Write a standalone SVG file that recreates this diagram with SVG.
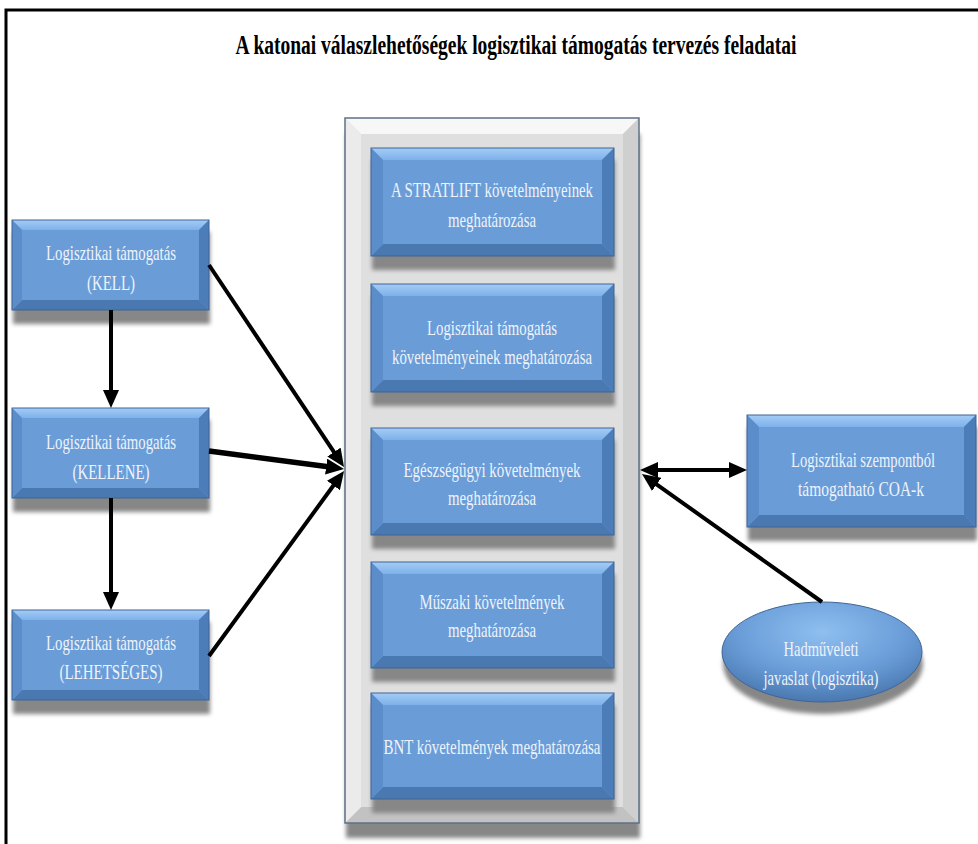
<svg xmlns="http://www.w3.org/2000/svg" width="978" height="844" viewBox="0 0 978 844">
<defs>
<style>
.t{font-family:"Liberation Serif","Times New Roman",serif;font-size:21px;fill:#eef3fb;text-anchor:middle}
.title{font-family:"Liberation Serif","Times New Roman",serif;font-size:28px;font-weight:bold;fill:#000;text-anchor:middle}
.bc{fill:#6a9dd8}
.bt{fill:url(#gTop)}
.bb{fill:#4a78b0}
.bl{fill:#5b8dcb}
.br{fill:#4d7db8}
.bo{fill:none;stroke:#3f6596;stroke-width:1}
.gc{fill:#dfdfdf}
.gt{fill:#f7f7f7}
.gb{fill:#c2c2c2}
.gl{fill:#ebebeb}
.gr{fill:#cfcfcf}
.go{fill:none;stroke:#5f7086;stroke-width:1.5}
.sh{fill:#878787;filter:url(#blur)}
.c{stroke:#000;stroke-width:4;fill:none;marker-end:url(#ah)}
</style>
<linearGradient id="gTop" x1="0" y1="0" x2="0" y2="1">
<stop offset="0" stop-color="#a4cdf6"/>
<stop offset="1" stop-color="#7eb0ea"/>
</linearGradient>
<radialGradient id="gEl" cx="0.5" cy="0.3" r="0.7">
<stop offset="0" stop-color="#8fbff0"/>
<stop offset="0.6" stop-color="#6a9dd8"/>
<stop offset="1" stop-color="#4a78b0"/>
</radialGradient>
<filter id="blur" x="-10%" y="-10%" width="120%" height="120%">
<feGaussianBlur stdDeviation="2"/>
</filter>
<marker id="ah" viewBox="0 0 18 16" refX="4" refY="8" markerWidth="18" markerHeight="16" markerUnits="userSpaceOnUse" orient="auto-start-reverse">
<path d="M0,0 L18,8 L0,16 z" fill="#000"/>
</marker>
</defs>
<rect width="978" height="844" fill="#fff"/>
<path d="M6,844 L6,10 L978,10" fill="none" stroke="#000" stroke-width="3"/>
<text class="title" x="516" y="54" textLength="561" lengthAdjust="spacingAndGlyphs">A katonai válaszlehetőségek logisztikai támogatás tervezés feladatai</text>

<g id="container">
<rect class="sh" x="346" y="134" width="294" height="704"/>
<rect class="gc" x="345" y="118" width="294" height="705"/>
<polygon class="gt" points="345,118 639,118 623,134 361,134"/>
<polygon class="gb" points="345,823 639,823 623,807 361,807"/>
<polygon class="gl" points="345,118 361,134 361,807 345,823"/>
<polygon class="gr" points="639,118 623,134 623,807 639,823"/>
<rect class="go" x="345" y="118" width="294" height="705"/>
</g>

<g id="kell">
<rect class="sh" x="13" y="232" width="197" height="92"/>
<rect class="bc" x="12" y="220" width="197" height="90"/>
<polygon class="bt" points="12,220 209,220 199,230 22,230"/>
<polygon class="bb" points="12,310 209,310 199,300 22,300"/>
<polygon class="bl" points="12,220 22,230 22,300 12,310"/>
<polygon class="br" points="209,220 199,230 199,300 209,310"/>
<rect class="bo" x="12" y="220" width="197" height="90"/>
<text class="t" x="111" y="260" textLength="130" lengthAdjust="spacingAndGlyphs">Logisztikai támogatás</text>
<text class="t" x="111" y="290" textLength="48" lengthAdjust="spacingAndGlyphs">(KELL)</text>
</g>

<g id="kellene">
<rect class="sh" x="13" y="420" width="197" height="92"/>
<rect class="bc" x="12" y="408" width="197" height="90"/>
<polygon class="bt" points="12,408 209,408 199,418 22,418"/>
<polygon class="bb" points="12,498 209,498 199,488 22,488"/>
<polygon class="bl" points="12,408 22,418 22,488 12,498"/>
<polygon class="br" points="209,408 199,418 199,488 209,498"/>
<rect class="bo" x="12" y="408" width="197" height="90"/>
<text class="t" x="111" y="449" textLength="130" lengthAdjust="spacingAndGlyphs">Logisztikai támogatás</text>
<text class="t" x="111" y="479" textLength="77" lengthAdjust="spacingAndGlyphs">(KELLENE)</text>
</g>

<g id="lehetseges">
<rect class="sh" x="13" y="622" width="197" height="92"/>
<rect class="bc" x="12" y="610" width="197" height="90"/>
<polygon class="bt" points="12,610 209,610 199,620 22,620"/>
<polygon class="bb" points="12,700 209,700 199,690 22,690"/>
<polygon class="bl" points="12,610 22,620 22,690 12,700"/>
<polygon class="br" points="209,610 199,620 199,690 209,700"/>
<rect class="bo" x="12" y="610" width="197" height="90"/>
<text class="t" x="111" y="650" textLength="130" lengthAdjust="spacingAndGlyphs">Logisztikai támogatás</text>
<text class="t" x="111" y="679" textLength="103" lengthAdjust="spacingAndGlyphs">(LEHETSÉGES)</text>
</g>

<g id="stratlift">
<rect class="sh" x="372" y="160" width="243" height="110"/>
<rect class="bc" x="371" y="148" width="243" height="108"/>
<polygon class="bt" points="371,148 614,148 602,160 383,160"/>
<polygon class="bb" points="371,256 614,256 602,244 383,244"/>
<polygon class="bl" points="371,148 383,160 383,244 371,256"/>
<polygon class="br" points="614,148 602,160 602,244 614,256"/>
<rect class="bo" x="371" y="148" width="243" height="108"/>
<text class="t" x="492" y="197" textLength="202" lengthAdjust="spacingAndGlyphs">A STRATLIFT követelményeinek</text>
<text class="t" x="492" y="227" textLength="88" lengthAdjust="spacingAndGlyphs">meghatározása</text>
</g>

<g id="logkov">
<rect class="sh" x="372" y="296" width="243" height="110"/>
<rect class="bc" x="371" y="284" width="243" height="108"/>
<polygon class="bt" points="371,284 614,284 602,296 383,296"/>
<polygon class="bb" points="371,392 614,392 602,380 383,380"/>
<polygon class="bl" points="371,284 383,296 383,380 371,392"/>
<polygon class="br" points="614,284 602,296 602,380 614,392"/>
<rect class="bo" x="371" y="284" width="243" height="108"/>
<text class="t" x="492" y="335" textLength="130" lengthAdjust="spacingAndGlyphs">Logisztikai támogatás</text>
<text class="t" x="492" y="364" textLength="200" lengthAdjust="spacingAndGlyphs">követelményeinek meghatározása</text>
</g>

<g id="egeszseg">
<rect class="sh" x="372" y="440" width="243" height="109"/>
<rect class="bc" x="371" y="428" width="243" height="107"/>
<polygon class="bt" points="371,428 614,428 602,440 383,440"/>
<polygon class="bb" points="371,535 614,535 602,523 383,523"/>
<polygon class="bl" points="371,428 383,440 383,523 371,535"/>
<polygon class="br" points="614,428 602,440 602,523 614,535"/>
<rect class="bo" x="371" y="428" width="243" height="107"/>
<text class="t" x="492" y="477" textLength="177" lengthAdjust="spacingAndGlyphs">Egészségügyi követelmények</text>
<text class="t" x="492" y="505" textLength="88" lengthAdjust="spacingAndGlyphs">meghatározása</text>
</g>

<g id="muszaki">
<rect class="sh" x="372" y="574" width="243" height="108"/>
<rect class="bc" x="371" y="562" width="243" height="106"/>
<polygon class="bt" points="371,562 614,562 602,574 383,574"/>
<polygon class="bb" points="371,668 614,668 602,656 383,656"/>
<polygon class="bl" points="371,562 383,574 383,656 371,668"/>
<polygon class="br" points="614,562 602,574 602,656 614,668"/>
<rect class="bo" x="371" y="562" width="243" height="106"/>
<text class="t" x="492" y="609" textLength="145" lengthAdjust="spacingAndGlyphs">Műszaki követelmények</text>
<text class="t" x="492" y="637" textLength="88" lengthAdjust="spacingAndGlyphs">meghatározása</text>
</g>

<g id="bnt">
<rect class="sh" x="372" y="705" width="243" height="108"/>
<rect class="bc" x="371" y="693" width="243" height="106"/>
<polygon class="bt" points="371,693 614,693 602,705 383,705"/>
<polygon class="bb" points="371,799 614,799 602,787 383,787"/>
<polygon class="bl" points="371,693 383,705 383,787 371,799"/>
<polygon class="br" points="614,693 602,705 602,787 614,799"/>
<rect class="bo" x="371" y="693" width="243" height="106"/>
<text class="t" x="492" y="754" textLength="217" lengthAdjust="spacingAndGlyphs">BNT követelmények  meghatározása</text>
</g>

<g id="coa">
<rect class="sh" x="748" y="427" width="229" height="114"/>
<rect class="bc" x="747" y="415" width="229" height="112"/>
<polygon class="bt" points="747,415 976,415 964,427 759,427"/>
<polygon class="bb" points="747,527 976,527 964,515 759,515"/>
<polygon class="bl" points="747,415 759,427 759,515 747,527"/>
<polygon class="br" points="976,415 964,427 964,515 976,527"/>
<rect class="bo" x="747" y="415" width="229" height="112"/>
<text class="t" x="863" y="467" textLength="144" lengthAdjust="spacingAndGlyphs">Logisztikai szempontból</text>
<text class="t" x="861" y="496" textLength="126" lengthAdjust="spacingAndGlyphs">támogatható COA-k</text>
</g>

<g id="hadmuveleti">
<ellipse class="sh" cx="823" cy="664" rx="100" ry="50"/>
<ellipse cx="822" cy="652" rx="100" ry="50" fill="url(#gEl)" stroke="#3f6596" stroke-width="1"/>
<text class="t" x="821" y="656" textLength="75" lengthAdjust="spacingAndGlyphs">Hadműveleti</text>
<text class="t" x="821" y="685" textLength="115" lengthAdjust="spacingAndGlyphs">javaslat (logisztika)</text>
</g>

<g id="connectors">
<line class="c" x1="111" y1="310" x2="111" y2="394"/>
<line class="c" x1="111" y1="498" x2="111" y2="596"/>
<line class="c" x1="209" y1="265" x2="336.2" y2="455.4"/>
<line class="c" x1="209" y1="451" x2="330.1" y2="467.1" style="stroke-width:5.5"/>
<line class="c" x1="209" y1="656" x2="335.8" y2="482.3"/>
<line class="c" x1="654" y1="470" x2="733" y2="470" style="marker-start:url(#ah)"/>
<line class="c" x1="822" y1="602" x2="653.4" y2="482.1"/>
</g>
</svg>
